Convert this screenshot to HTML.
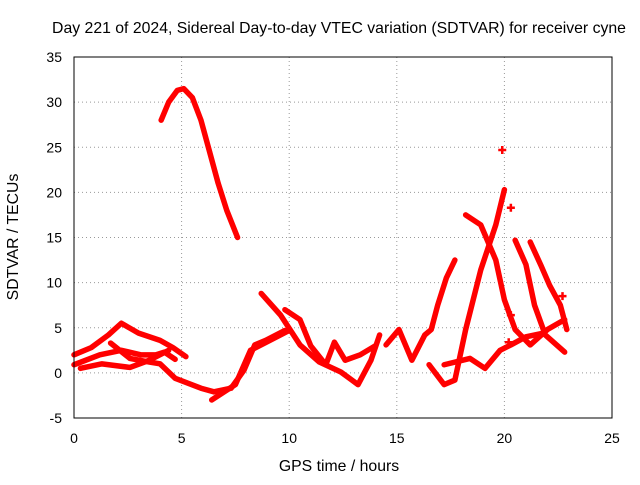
<!DOCTYPE html>
<html><head><meta charset="utf-8"><style>
body{margin:0;background:#fff;}
svg text{font-family:"Liberation Sans",sans-serif;font-size:14px;fill:#000;}
svg text.big{font-size:15.8px;}
</style></head><body>
<svg id="chart" width="640" height="480">
<text class="big" x="339" y="33" text-anchor="middle">Day 221 of 2024, Sidereal Day-to-day VTEC variation (SDTVAR) for receiver cyne</text>
<text class="big" x="339" y="471" text-anchor="middle">GPS time / hours</text>
<text class="big" x="0" y="0" transform="translate(18,237) rotate(-90)" text-anchor="middle">SDTVAR / TECUs</text>
<g id="grid"></g><g id="ticks"></g><g id="series"></g>
<rect x="74" y="57" width="538" height="361" fill="none" stroke="#000"/>
</svg>
<script>
const xTicks=[0,5,10,15,20,25];
const yTicks=[-5,0,5,10,15,20,25,30,35];
const tracks=[
[[4.05,28],[4.4,30],[4.8,31.3],[5.1,31.5],[5.5,30.5],[5.9,28],[6.3,24.5],[6.7,21],[7.1,18],[7.6,15]],
[[0,2],[0.8,2.8],[1.6,4.2],[2.2,5.5],[3,4.4],[4,3.6],[4.6,2.8],[5.2,1.8]],
[[0,0.9],[1.2,2],[2.2,2.5],[3.1,2],[3.8,2],[4.2,2.3],[4.7,1.5]],
[[1.7,3.3],[2.6,1.6],[3.5,1.2],[4,1],[4.7,-0.6],[5.9,-1.7],[6.5,-2.1],[7.3,-1.7],[7.9,0.3],[8.4,3.1],[8.9,3.6],[9.8,4.7]],
[[0.3,0.5],[1.3,1],[2.6,0.6],[3.5,1.4],[4.4,2.5]],
[[6.4,-3],[7.5,-1.3],[8.2,2.5],[9.1,3.6],[10,4.7]],
[[8.7,8.8],[9.6,6.4],[10.5,3.1],[11.4,1.2],[12.4,0.1],[13.2,-1.3],[13.8,1.4],[14.2,4.2]],
[[9.8,7],[10.5,5.9],[11,3],[11.7,0.9],[12.1,3.4],[12.6,1.4],[13.3,2],[14,3]],
[[14.5,3.1],[15.1,4.8],[15.7,1.4],[16.3,4.2],[16.6,4.8],[16.9,7.5],[17.3,10.5],[17.7,12.5]],
[[16.5,0.9],[17.2,-1.3],[17.7,-0.8],[18.2,4.8],[18.9,11.4],[19.6,16.4],[20,20.3]],
[[18.2,17.5],[18.9,16.4],[19.6,12.5],[20,8.1],[20.5,4.8],[21.2,3.1],[22,4.8],[22.8,5.9]],
[[20.5,14.7],[21,12],[21.4,7.5],[21.9,4.2],[22.8,2.3]],
[[21.2,14.5],[21.7,11.9],[22.1,9.7],[22.6,7.5],[22.9,4.8]],
[[17.2,0.9],[18.4,1.6],[19.1,0.5],[19.8,2.5],[20.3,3.1],[21,4],[21.8,4.4]]
];
const outliers=[[19.9,24.7],[20.3,18.3],[22.7,8.5],[20.3,6.4],[20.2,3.4]];
const NS="http://www.w3.org/2000/svg";
const X=h=>74+h*538/25, Y=v=>418-(v+5)*361/40;
const g=document.getElementById('grid'),t=document.getElementById('ticks'),s=document.getElementById('series');
function mk(tag,attrs,parent){const e=document.createElementNS(NS,tag);for(const k in attrs)e.setAttribute(k,attrs[k]);parent.appendChild(e);return e;}
xTicks.forEach(v=>{
 if(v>0&&v<25){const l=mk('line',{x1:X(v),x2:X(v),y1:57,y2:418,stroke:'#999','stroke-dasharray':'1,3'},g);
 
 }
 const tx=mk('text',{x:X(v),y:443,'text-anchor':'middle'},t);tx.textContent=v;
 
 
});
yTicks.forEach(v=>{
 if(v>-5&&v<35){const l=mk('line',{x1:74,x2:612,y1:Y(v),y2:Y(v),stroke:'#999','stroke-dasharray':'1,3'},g);
 
 }
 const tx=mk('text',{x:62,y:Y(v)+5,'text-anchor':'end'},t);tx.textContent=v;
 
 
});
tracks.forEach((tr,i)=>{
 const p=mk('polyline',{points:tr.map(d=>X(d[0])+','+Y(d[1])).join(' '),fill:'none',stroke:'#f00','stroke-width':5.5,'stroke-linejoin':'round','stroke-linecap':'round'},s);
 
 
});
outliers.forEach(d=>{
 const m=mk('path',{d:`M${X(d[0])-4},${Y(d[1])}h8M${X(d[0])},${Y(d[1])-4}v8`,stroke:'#f00','stroke-width':2.5},s);
 
 
});
</script>
</body></html>
